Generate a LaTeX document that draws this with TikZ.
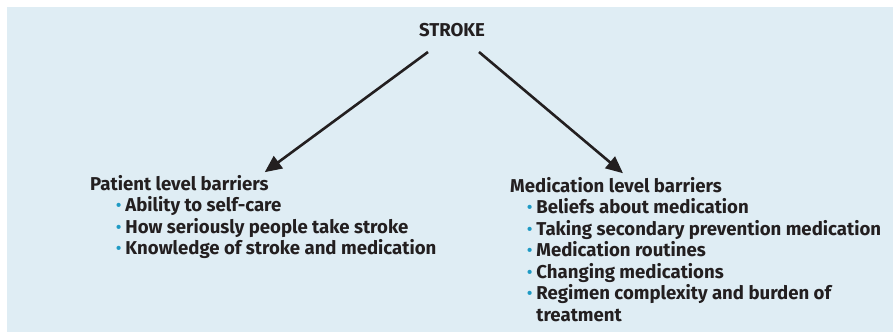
\documentclass[tikz,border=0pt]{standalone}
\usepackage{fontspec}
\setmainfont{Fira Sans}
\usetikzlibrary{arrows.meta,positioning}

\definecolor{panelblue}{HTML}{DFEDF4}
\definecolor{dotblue}{HTML}{1E9AC4}
\definecolor{inkdark}{HTML}{231F20}

\newcommand{\dotitem}{\raisebox{0.1ex}{\color{dotblue}\fontsize{15}{15}\selectfont\textbullet}}

\tikzset{
    barrierhead/.style={anchor=base west, inner sep=0pt, text=inkdark, font=\bfseries\fontsize{18.6}{21.5}\selectfont},
    barrierlist/.style={anchor=base west, inner sep=0pt, text=inkdark, font=\bfseries\fontsize{18.6}{21.5}\selectfont},
    leadarrow/.style={line width=2.6pt, draw=inkdark, -{Triangle[length=17pt,width=15pt]}}
}

\begin{document}
\begin{tikzpicture}[x=1pt, y=-1pt]
            \useasboundingbox (0,0) rectangle (893,332);
            \fill[panelblue] (7,7) rectangle (893,332);

            \node[inner sep=0pt, text=inkdark, font=\bfseries\fontsize{18.6}{21.5}\selectfont] (stroke) at (452,30) {STROKE};

            \node[barrierhead] (patient) at (90,190.5) {Patient level barriers};
            \node[barrierlist] (patientlist) at (116,211.5) {\begin{tabular}[t]{@{}l@{\hspace{4pt}}l@{}}
                \dotitem & Ability to self-care\\
                \dotitem & How seriously people take stroke\\
                \dotitem & Knowledge of stroke and medication
            \end{tabular}};

            \node[barrierhead] (medication) at (510,192.5) {Medication level barriers};
            \node[barrierlist] (medicationlist) at (527,213.5) {\begin{tabular}[t]{@{}l@{\hspace{4pt}}l@{}}
                \dotitem & Beliefs about medication\\
                \dotitem & Taking secondary prevention medication\\
                \dotitem & Medication routines\\
                \dotitem & Changing medications\\
                \dotitem & Regimen complexity and burden of\\
                         & treatment
            \end{tabular}};

            % arrows from STROKE down to the two groups
            \coordinate (fromL) at ([shift={(-24,22)}]stroke.center);
            \coordinate (fromR) at ([shift={(27,22)}]stroke.center);
            \coordinate (toL) at ([shift={(-4,-3)}]patient.north east);
            \coordinate (toR) at ([shift={(7,-4)}]medication.north);

            \draw[leadarrow] (fromL) -- (toL);
            \draw[leadarrow] (fromR) -- (toR);
\end{tikzpicture}
\end{document}
